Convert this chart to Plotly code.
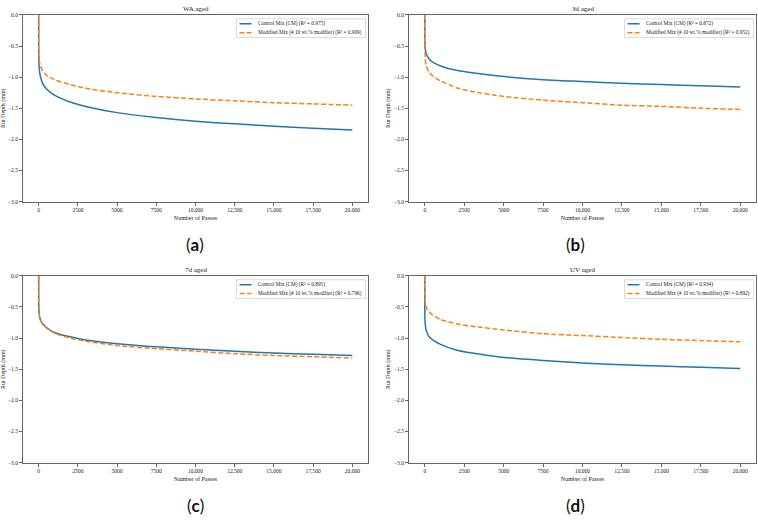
import plotly.graph_objects as go

passes = [0, 1, 10, 50, 100, 250, 500, 1000, 2000, 3000, 5000, 7500, 10000, 12500, 15000, 17500, 20000]

titles = ["WA aged", "3d aged", "7d aged", "UV aged"]
panel_labels = ["a", "b", "c", "d"]

cm_wa = [0, -0.56, -0.74, -0.90, -0.98, -1.10, -1.19, -1.29, -1.40, -1.47, -1.57, -1.65, -1.71, -1.75, -1.79, -1.82, -1.85]
mm_wa = [0, -0.49, -0.63, -0.76, -0.81, -0.90, -0.97, -1.04, -1.12, -1.18, -1.25, -1.31, -1.35, -1.38, -1.41, -1.43, -1.45]
cm_3d = [0, -0.37, -0.48, -0.58, -0.63, -0.70, -0.76, -0.82, -0.89, -0.93, -0.99, -1.04, -1.07, -1.10, -1.12, -1.14, -1.16]
mm_3d = [0, -0.45, -0.60, -0.75, -0.82, -0.91, -0.98, -1.06, -1.17, -1.23, -1.31, -1.37, -1.41, -1.45, -1.47, -1.50, -1.52]
cm_7d = [0, -0.41, -0.53, -0.65, -0.70, -0.77, -0.83, -0.91, -0.98, -1.03, -1.09, -1.14, -1.18, -1.21, -1.24, -1.26, -1.28]
mm_7d = [0, -0.39, -0.52, -0.65, -0.70, -0.78, -0.84, -0.92, -1.00, -1.05, -1.12, -1.17, -1.21, -1.25, -1.28, -1.30, -1.32]
cm_uv = [0, -0.56, -0.70, -0.82, -0.88, -0.97, -1.03, -1.10, -1.19, -1.24, -1.31, -1.36, -1.40, -1.43, -1.45, -1.47, -1.49]
mm_uv = [0, -0.27, -0.37, -0.46, -0.51, -0.57, -0.63, -0.70, -0.77, -0.81, -0.87, -0.93, -0.96, -0.99, -1.02, -1.04, -1.06]

r2_cm = ["0.975", "0.872", "0.895", "0.934"]
r2_mm = ["0.969", "0.952", "0.796", "0.892"]

x_tickvals = [0, 2500, 5000, 7500, 10000, 12500, 15000, 17500, 20000]
x_ticktext = ["0", "2500", "5000", "7500", "10,000", "12,500", "15,000", "17,500", "20,000"]
y_tickvals = [0, -0.5, -1.0, -1.5, -2.0, -2.5, -3.0]
y_ticktext = ["0.0", "\u22120.5", "\u22121.0", "\u22121.5", "\u22122.0", "\u22122.5", "\u22123.0"]

cm_series = [cm_wa, cm_3d, cm_7d, cm_uv]
mm_series = [mm_wa, mm_3d, mm_7d, mm_uv]

W, H = 758, 521
BLUE = "#1f77b4"
ORANGE = "#ff7f0e"
FONT = "Liberation Serif"
DASH = "5px,2.4px"

# pixel boxes (left, right, top, bottom)
boxes = [(23, 368, 12, 201), (409, 756, 12, 201), (23, 368, 276, 465), (409, 756, 276, 465)]
label_x = [195, 575, 195, 575]


def px(x):
    return x / W


def py(y):
    return 1 - y / H


fig = go.Figure()
layout = dict(
    width=W, height=H, margin=dict(l=0, r=0, t=0, b=0),
    paper_bgcolor="white", plot_bgcolor="white",
    font=dict(family=FONT, color="#222", size=5),
    showlegend=False,
)
annotations = []
shapes = []
for i in range(4):
    l, r, t, b = boxes[i]
    sfx = "" if i == 0 else str(i + 1)
    xa, ya = "x" + sfx, "y" + sfx
    name_cm = "Control Mix (CM) (R\u00b2 = " + r2_cm[i] + ")"
    name_mm = "Modified Mix (# 10 wt.% modifier) (R\u00b2 = " + r2_mm[i] + ")"
    fig.add_trace(go.Scatter(
        x=passes, y=cm_series[i], mode="lines", xaxis=xa, yaxis=ya,
        line=dict(color=BLUE, width=1.5, shape="spline", smoothing=0.6), name=name_cm))
    fig.add_trace(go.Scatter(
        x=passes, y=mm_series[i], mode="lines", xaxis=xa, yaxis=ya,
        line=dict(color=ORANGE, width=1.5, dash=DASH, shape="spline", smoothing=0.6),
        name=name_mm))
    axis_common = dict(showgrid=False, zeroline=False, showline=True, mirror=True,
                       linecolor="#666", linewidth=1, ticks="outside", ticklen=3,
                       tickcolor="#666", tickfont=dict(size=5.5, family=FONT))
    layout["xaxis" + sfx] = dict(
        domain=[px(l), px(r)], anchor=ya, range=[-1000, 21000],
        tickvals=x_tickvals, ticktext=x_ticktext,
        title=dict(text="Number of Passes", font=dict(size=6, family=FONT), standoff=3),
        **axis_common)
    layout["yaxis" + sfx] = dict(
        domain=[py(b), py(t)], anchor=xa, range=[-3.0, 0.0],
        tickvals=y_tickvals, ticktext=y_ticktext,
        title=dict(text="Rut Depth (mm)", font=dict(size=6, family=FONT), standoff=2),
        **axis_common)

    # legend box (drawn manually for compact matplotlib-like look)
    bx1 = r - 2.5
    bx0 = bx1 - 129
    by0 = t + 4
    by1 = t + 23
    shapes.append(dict(type="rect", xref="paper", yref="paper",
                       x0=px(bx0), x1=px(bx1), y0=py(by1), y1=py(by0),
                       line=dict(color="#d0d0d0", width=0.8), fillcolor="rgba(255,255,255,0.85)"))
    for k, (col, dash, txt) in enumerate([(BLUE, "solid", name_cm), (ORANGE, DASH, name_mm)]):
        yy = by0 + 5 + k * 9
        shapes.append(dict(type="line", xref="paper", yref="paper",
                           x0=px(bx0 + 3), x1=px(bx0 + 15), y0=py(yy), y1=py(yy),
                           line=dict(color=col, width=1.5, dash=dash)))
        annotations.append(dict(text=txt, x=px(bx0 + 19), y=py(yy), xref="paper", yref="paper",
                                showarrow=False, xanchor="left", yanchor="middle",
                                font=dict(size=5.3, family=FONT, color="#222")))

    annotations.append(dict(
        text=titles[i], x=px((l + r) / 2), y=py(t - 6), xref="paper", yref="paper",
        showarrow=False, font=dict(size=7, family=FONT, color="#222"),
        xanchor="center", yanchor="middle"))
    annotations.append(dict(
        text="(<b>" + panel_labels[i] + "</b>)", x=px(label_x[i]),
        y=py(b + 43), xref="paper", yref="paper", showarrow=False,
        font=dict(size=17, family="Lato", color="#111"), xanchor="center", yanchor="middle"))

layout["annotations"] = annotations
layout["shapes"] = shapes
fig.update_layout(**layout)
fig.write_html("out.html")
